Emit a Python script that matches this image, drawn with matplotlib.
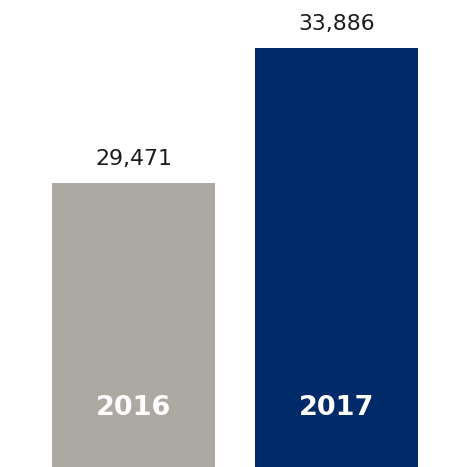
import matplotlib
matplotlib.use("Agg")
import matplotlib.pyplot as plt
import matplotlib.transforms as mtransforms

# data
years = ["2016", "2017"]
totals = [29471, 33886]
bar_colors = ["#ACA8A2", "#002A68"]

fig = plt.figure(figsize=(4.5, 4.67), dpi=100)
ax = fig.add_axes([0, 0, 1, 1])

xs = list(range(len(years)))
ax.bar(xs, totals, width=0.8, color=bar_colors)

# baseline is cut, so the bars start well above zero
ax.set_ylim(20174, 35457)
ax.set_xlim(-0.658, 1.559)
ax.axis("off")

# value labels above each bar
for x, v in zip(xs, totals):
    ax.annotate(f"{v:,}", xy=(x, v), xytext=(0, 17.3), textcoords="offset points",
                ha="center", va="center", fontsize=15.8, color="#1a1a1a",
                family="DejaVu Sans")

# year labels inside the bars, near the bottom
trans = mtransforms.blended_transform_factory(ax.transData, ax.transAxes)
for x, yr in zip(xs, years):
    ax.text(x, 0.126, yr, transform=trans, ha="center", va="center",
            fontsize=19.5, fontweight="bold", color="white", family="DejaVu Sans")

fig.savefig("out.png", dpi=100)
